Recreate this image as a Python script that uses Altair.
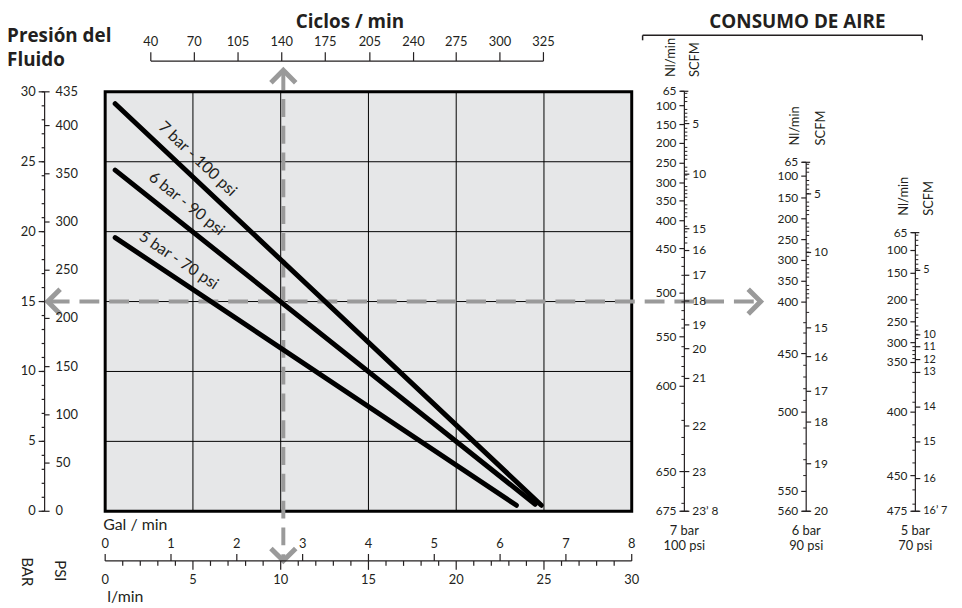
import altair as alt
import pandas as pd

# ---------------- chart values ----------------
CURVE_NAMES = ["7 bar - 100 psi", "6 bar - 90 psi", "5 bar - 70 psi"]
CURVE_FLOW_LMIN = [[0.57, 24.85], [0.57, 24.5], [0.57, 23.43]]
CURVE_PRESSURE_BAR = [[29.15, 0.43], [24.4, 0.5], [19.57, 0.43]]
CURVE_LABEL_FLOW = [5.26, 4.64, 4.19]
CURVE_LABEL_BAR = [25.2, 22.0, 17.95]
CURVE_LABEL_ANGLE = [43.3, 38.5, 33.7]

BAR_LABELS = [0, 5, 10, 15, 20, 25, 30]
BAR_MINOR = list(range(0, 31))
PSI_LABELS = [0, 50, 100, 150, 200, 250, 300, 350, 400, 435]
LMIN_LABELS = [0, 5, 10, 15, 20, 25, 30]
LMIN_MAJOR_TICKS = [5, 10, 15, 20, 25]
LMIN_MINOR = [v for v in range(1, 30) if v % 5]
GAL_LABELS = [0, 1, 2, 3, 4, 5, 6, 7, 8]
CYCLE_LABELS = [40, 70, 105, 140, 175, 205, 240, 275, 300, 325]
CYCLE_AT_LMIN = [2.6, 5.08, 7.57, 10.06, 12.54, 15.08, 17.57, 20.0, 22.49, 24.97]
GRID_LMIN = [5, 10, 15, 20, 25]
GRID_BAR = [5, 10, 15, 20, 25]

OPERATING_FLOW = 10.15
OPERATING_BAR = 15

NOMO_FOOT = [("7 bar", "100 psi"), ("6 bar", "90 psi"), ("5 bar", "70 psi")]
NL_VALUES = [
    [65, 100, 150, 200, 250, 300, 350, 400, 450, 500, 550, 600, 650, 675],
    [65, 100, 150, 200, 250, 300, 350, 400, 450, 500, 550, 560],
    [65, 100, 150, 200, 250, 300, 350, 400, 450, 475],
]
NL_AT_BAR = [
    [30.04, 29.01, 27.66, 26.31, 24.89, 23.48, 22.20, 20.78, 18.79, 15.60, 12.48, 8.94, 2.84, 0.0],
    [24.96, 23.97, 22.41, 20.92, 19.43, 17.94, 16.45, 14.96, 11.28, 7.09, 1.42, 0.0],
    [19.93, 18.65, 17.02, 15.11, 13.55, 12.06, 10.64, 7.09, 2.55, 0.0],
]
SCFM_TEXT = [
    ["5", "10", "15", "16", "17", "18", "19", "20", "21", "22", "23", "23\u2019 8"],
    ["5", "10", "15", "16", "17", "18", "19", "20"],
    ["5", "10", "11", "12", "13", "14", "15", "16", "16\u2019 7"],
]
SCFM_AT_BAR = [
    [27.73, 24.11, 20.21, 18.65, 16.88, 15.04, 13.33, 11.63, 9.50, 6.10, 2.84, 0.0],
    [22.70, 18.51, 13.12, 11.06, 8.58, 6.38, 3.40, 0.0],
    [17.23, 12.62, 11.77, 10.85, 9.93, 7.45, 4.96, 2.34, 0.0],
]
NL_MINOR_STEP = 10

# ---------------- layout: pixel frame and positions in main-chart units ----------------
W, H = 954, 600
PX_X = [98, 629]      # l/min 0 .. 30
PX_Y = [505, 82]      # bar 0 .. 30
LEFT_AXIS_AT = -3.45
BOTTOM_AXIS_AT = -3.55
TOP_AXIS_AT = 32.2
NOMO_AT = [33.0, 39.94, 46.16]
NOMO_MINOR_SWITCH = [450, 420, 300]
NOMO_HEAD_NL_AT = [32.26, 39.32, 45.54]
NOMO_HEAD_SCFM_AT = [33.62, 40.79, 46.95]
NOMO_HEAD_BOTTOM = [31.06, 26.17, 21.13]
NOMO_FOOT_BAR = [-1.42, -2.48]
NOMO_SCFM_FONT = [12, 12, 11]
V_DASH = (31.4, -3.3)
H_DASH = (-3.16, 37.2)
ARROWS = [(OPERATING_FLOW, 31.1, 0), (OPERATING_FLOW, -3.1, 180),
          (-2.92, OPERATING_BAR, 270), (36.99, OPERATING_BAR, 90)]
BRACKET = (30.62, 46.55, 34.04)
TITLE_TOP_BAR = 35.0

FONT = "Lato"
TITLE_FONT = "Open Sans"
INK = "#231f20"
GREY = "#9a9a9a"
PANEL = "#e6e7e8"
CHEVRON = "M-1,0.5L0,-0.5L1,0.5"

XS = alt.Scale(domain=[0, 30], range=PX_X, nice=False, zero=False)
YS = alt.Scale(domain=[0, 30], range=PX_Y, nice=False, zero=False)
GAL_S = alt.Scale(domain=[0, 8], range=PX_X, nice=False, zero=False)
PSI_S = alt.Scale(domain=[0, 435], range=PX_Y, nice=False, zero=False)


def ypx(b):
    return PX_Y[0] + (PX_Y[1] - PX_Y[0]) * b / 30.0


def xq(f, sc=None):
    return alt.X(f"{f}:Q", scale=sc if sc is not None else XS, axis=None)


def yq(f, sc=None):
    return alt.Y(f"{f}:Q", scale=sc if sc is not None else YS, axis=None)


def x2q(f):
    return alt.X2(f"{f}:Q")


def y2q(f):
    return alt.Y2(f"{f}:Q")


def text_layer(df, xf, yf, tf, xs=None, ys=None, **mk):
    mk.setdefault("font", FONT)
    mk.setdefault("fontSize", 13)
    mk.setdefault("color", INK)
    return alt.Chart(df).mark_text(**mk).encode(
        x=xq(xf, xs), y=yq(yf, ys), text=alt.Text(f"{tf}:N"))


def hticks(df, xf, yf, ys=None, left=0, right=0, width=1.2):
    return alt.Chart(df).mark_rule(color=INK, strokeWidth=width, xOffset=-left, x2Offset=right).encode(
        x=xq(xf), x2=x2q(xf), y=yq(yf, ys))


def vticks(df, xf, yf, xs=None, up=0, down=0, width=1.2):
    return alt.Chart(df).mark_rule(color=INK, strokeWidth=width, yOffset=-up, y2Offset=down).encode(
        x=xq(xf, xs), y=yq(yf), y2=y2q(yf))


L = []

# ---- panel ----
panel = pd.DataFrame({"u0": [0], "u1": [30], "b0": [0], "b1": [30]})
L.append(alt.Chart(panel).mark_rect(fill=PANEL).encode(
    x=xq("u0"), x2=x2q("u1"), y=yq("b0"), y2=y2q("b1")))
vg = pd.DataFrame({"u": GRID_LMIN, "b0": 0, "b1": 30})
L.append(alt.Chart(vg).mark_rule(color="black", strokeWidth=1).encode(
    x=xq("u"), y=yq("b0"), y2=y2q("b1")))
hg = pd.DataFrame({"b": GRID_BAR, "u0": 0, "u1": 30})
L.append(alt.Chart(hg).mark_rule(color="black", strokeWidth=1).encode(
    y=yq("b"), x=xq("u0"), x2=x2q("u1")))
L.append(alt.Chart(panel).mark_rect(fillOpacity=0, stroke="black", strokeWidth=3).encode(
    x=xq("u0"), x2=x2q("u1"), y=yq("b0"), y2=y2q("b1")))

# ---- dashed reading lines ----
vd = pd.DataFrame({"u": [OPERATING_FLOW], "b0": [V_DASH[0]], "b1": [V_DASH[1]]})
L.append(alt.Chart(vd).mark_rule(color=GREY, strokeWidth=4, strokeDash=[18, 9]).encode(
    x=xq("u"), y=yq("b0"), y2=y2q("b1")))
hd = pd.DataFrame({"b": [OPERATING_BAR], "u0": [H_DASH[0]], "u1": [H_DASH[1]]})
L.append(alt.Chart(hd).mark_rule(color=GREY, strokeWidth=4, strokeDash=[20, 10]).encode(
    y=yq("b"), x=xq("u0"), x2=x2q("u1")))
arr = pd.DataFrame(ARROWS, columns=["u", "b", "a"])
L.append(alt.Chart(arr).mark_point(shape=CHEVRON, filled=False, size=625, strokeWidth=5,
                                   color=GREY, opacity=1).encode(
    x=xq("u"), y=yq("b"), angle=alt.Angle("a:Q", scale=None)))

# ---- pressure / flow curves ----
rows = []
for n, fl, pr in zip(CURVE_NAMES, CURVE_FLOW_LMIN, CURVE_PRESSURE_BAR):
    for f, p in zip(fl, pr):
        rows.append({"name": n, "u": f, "b": p})
curves = pd.DataFrame(rows)
L.append(alt.Chart(curves).mark_line(color="black", strokeWidth=5, strokeCap="round").encode(
    x=xq("u"), y=yq("b"), detail="name:N"))
for n, u, b, a in zip(CURVE_NAMES, CURVE_LABEL_FLOW, CURVE_LABEL_BAR, CURVE_LABEL_ANGLE):
    L.append(text_layer(pd.DataFrame({"u": [u], "b": [b], "t": [n]}), "u", "b", "t",
                        angle=a, fontSize=16, align="center", baseline="middle"))

# ---- left pressure axis ----
ax = pd.DataFrame({"u": [LEFT_AXIS_AT], "b0": [0], "b1": [30]})
L.append(alt.Chart(ax).mark_rule(color=INK, strokeWidth=1.2).encode(x=xq("u"), y=yq("b0"), y2=y2q("b1")))
bm = pd.DataFrame({"u": LEFT_AXIS_AT, "b": BAR_MINOR})
L.append(hticks(bm, "u", "b", left=3))
bl = pd.DataFrame({"u": LEFT_AXIS_AT, "b": BAR_LABELS, "t": [str(v) for v in BAR_LABELS]})
L.append(hticks(bl, "u", "b", left=6))
L.append(text_layer(bl, "u", "b", "t", align="right", baseline="middle", dx=-9))
pl = pd.DataFrame({"u": LEFT_AXIS_AT, "p": PSI_LABELS, "t": [str(v) for v in PSI_LABELS]})
L.append(hticks(pl, "u", "p", ys=PSI_S, right=5))
L.append(text_layer(pl, "u", "p", "t", ys=PSI_S, align="left", baseline="middle", dx=11))
L.append(text_layer(pd.DataFrame({"u": [-4.46], "b": [-4.33], "t": ["BAR"]}), "u", "b", "t",
                    angle=90, fontSize=15, align="center", baseline="middle"))
L.append(text_layer(pd.DataFrame({"u": [-2.6], "b": [-4.26], "t": ["PSI"]}), "u", "b", "t",
                    angle=90, fontSize=15, align="center", baseline="middle"))

# ---- titles ----
titles = pd.DataFrame({"u": [-5.59, -5.59], "b": [33.98, 32.25], "t": ["Presión del", "Fluido"]})
L.append(text_layer(titles, "u", "b", "t", font=TITLE_FONT, fontSize=19, fontWeight="bold",
                    align="left", baseline="middle"))
L.append(text_layer(pd.DataFrame({"u": [13.95], "b": [TITLE_TOP_BAR], "t": ["Ciclos / min"]}), "u", "b", "t",
                    font=TITLE_FONT, fontSize=19, fontWeight="bold", align="center", baseline="middle"))
L.append(text_layer(pd.DataFrame({"u": [39.44], "b": [TITLE_TOP_BAR], "t": ["CONSUMO DE AIRE"]}), "u", "b", "t",
                    font=TITLE_FONT, fontSize=19, fontWeight="bold", align="center", baseline="middle"))
br = pd.DataFrame({"u0": [BRACKET[0]], "u1": [BRACKET[1]], "b": [BRACKET[2]]})
L.append(alt.Chart(br).mark_rule(color=INK, strokeWidth=1.5).encode(x=xq("u0"), x2=x2q("u1"), y=yq("b")))
bre = pd.DataFrame({"u": [BRACKET[0], BRACKET[1]], "b": BRACKET[2]})
L.append(vticks(bre, "u", "b", down=5, width=1.5))

# ---- top cycles axis ----
cy = pd.DataFrame({"u": CYCLE_AT_LMIN, "b": TOP_AXIS_AT, "t": [str(v) for v in CYCLE_LABELS]})
cyl = pd.DataFrame({"u0": [CYCLE_AT_LMIN[0]], "u1": [CYCLE_AT_LMIN[-1]], "b": [TOP_AXIS_AT]})
L.append(alt.Chart(cyl).mark_rule(color=INK, strokeWidth=1.2).encode(x=xq("u0"), x2=x2q("u1"), y=yq("b")))
L.append(vticks(cy, "u", "b", up=9))
L.append(text_layer(cy, "u", "b", "t", align="center", baseline="middle", dy=-19))

# ---- bottom flow axis ----
bl_ = pd.DataFrame({"u0": [0], "u1": [30], "b": [BOTTOM_AXIS_AT]})
L.append(alt.Chart(bl_).mark_rule(color=INK, strokeWidth=1.2).encode(x=xq("u0"), x2=x2q("u1"), y=yq("b")))
lm = pd.DataFrame({"u": LMIN_MINOR, "b": BOTTOM_AXIS_AT})
L.append(vticks(lm, "u", "b", down=5))
lM = pd.DataFrame({"u": LMIN_MAJOR_TICKS, "b": BOTTOM_AXIS_AT})
L.append(vticks(lM, "u", "b", down=9))
ll = pd.DataFrame({"u": LMIN_LABELS, "b": BOTTOM_AXIS_AT, "t": [str(v) for v in LMIN_LABELS]})
L.append(text_layer(ll, "u", "b", "t", align="center", baseline="middle", dy=19))
gl = pd.DataFrame({"g": GAL_LABELS, "b": BOTTOM_AXIS_AT, "t": [str(v) for v in GAL_LABELS]})
L.append(vticks(gl, "g", "b", xs=GAL_S, up=7))
L.append(text_layer(gl, "g", "b", "t", xs=GAL_S, align="center", baseline="middle", dy=-17))
L.append(text_layer(pd.DataFrame({"u": [0], "b": [BOTTOM_AXIS_AT], "t": ["Gal / min"]}), "u", "b", "t",
                    fontSize=16, align="left", baseline="middle", dx=-2, dy=-36))
L.append(text_layer(pd.DataFrame({"u": [0], "b": [BOTTOM_AXIS_AT], "t": ["l/min"]}), "u", "b", "t",
                    fontSize=16, align="left", baseline="middle", dx=2, dy=36))

# ---- air consumption nomograms ----
for k in range(3):
    at = NOMO_AT[k]
    line = pd.DataFrame({"u": [at], "b0": [NL_AT_BAR[k][0]], "b1": [NL_AT_BAR[k][-1]]})
    L.append(alt.Chart(line).mark_rule(color=INK, strokeWidth=1.2).encode(
        x=xq("u"), y=yq("b0"), y2=y2q("b1")))
    ends = pd.DataFrame({"u": at, "b": [NL_AT_BAR[k][0], NL_AT_BAR[k][-1]]})
    L.append(hticks(ends, "u", "b", left=4, right=4))
    nl = pd.DataFrame({"u": at, "b": NL_AT_BAR[k], "t": [str(v) for v in NL_VALUES[k]]})
    L.append(hticks(nl, "u", "b", left=5))
    L.append(text_layer(nl, "u", "b", "t", fontSize=12, align="right", baseline="middle", dx=-8))
    sc = pd.DataFrame({"u": at, "b": SCFM_AT_BAR[k], "t": SCFM_TEXT[k]})
    L.append(hticks(sc, "u", "b", right=5))
    L.append(text_layer(sc, "u", "b", "t", fontSize=NOMO_SCFM_FONT[k], align="left", baseline="middle", dx=8))
    # minor ticks every 10 Nl/min, placed by a piecewise scale through the read positions
    nl_scale = alt.Scale(domain=NL_VALUES[k], range=[ypx(b) for b in NL_AT_BAR[k]], nice=False, zero=False)
    minor = [v for v in range(70, NL_VALUES[k][-1], NL_MINOR_STEP) if v not in NL_VALUES[k]]
    mr = pd.DataFrame({"u": at, "v": [v for v in minor if v < NOMO_MINOR_SWITCH[k]]})
    ml = pd.DataFrame({"u": at, "v": [v for v in minor if v >= NOMO_MINOR_SWITCH[k]]})
    L.append(hticks(mr, "u", "v", ys=nl_scale, right=3, width=1))
    L.append(hticks(ml, "u", "v", ys=nl_scale, left=3, width=1))
    head = pd.DataFrame({"u": [NOMO_HEAD_NL_AT[k], NOMO_HEAD_SCFM_AT[k]],
                         "b": NOMO_HEAD_BOTTOM[k], "t": ["Nl/min", "SCFM"]})
    L.append(text_layer(head, "u", "b", "t", angle=270, align="left", baseline="middle"))
    foot = pd.DataFrame({"u": at, "b": NOMO_FOOT_BAR, "t": list(NOMO_FOOT[k])})
    L.append(text_layer(foot, "u", "b", "t", align="center", baseline="middle"))

chart = alt.layer(*L).resolve_scale(x="independent", y="independent").properties(
    width=W, height=H, autosize=alt.AutoSizeParams(type="none"), padding=0
).configure_view(stroke=None)

chart.save("out.html", embed_options={"renderer": "svg", "actions": False})
